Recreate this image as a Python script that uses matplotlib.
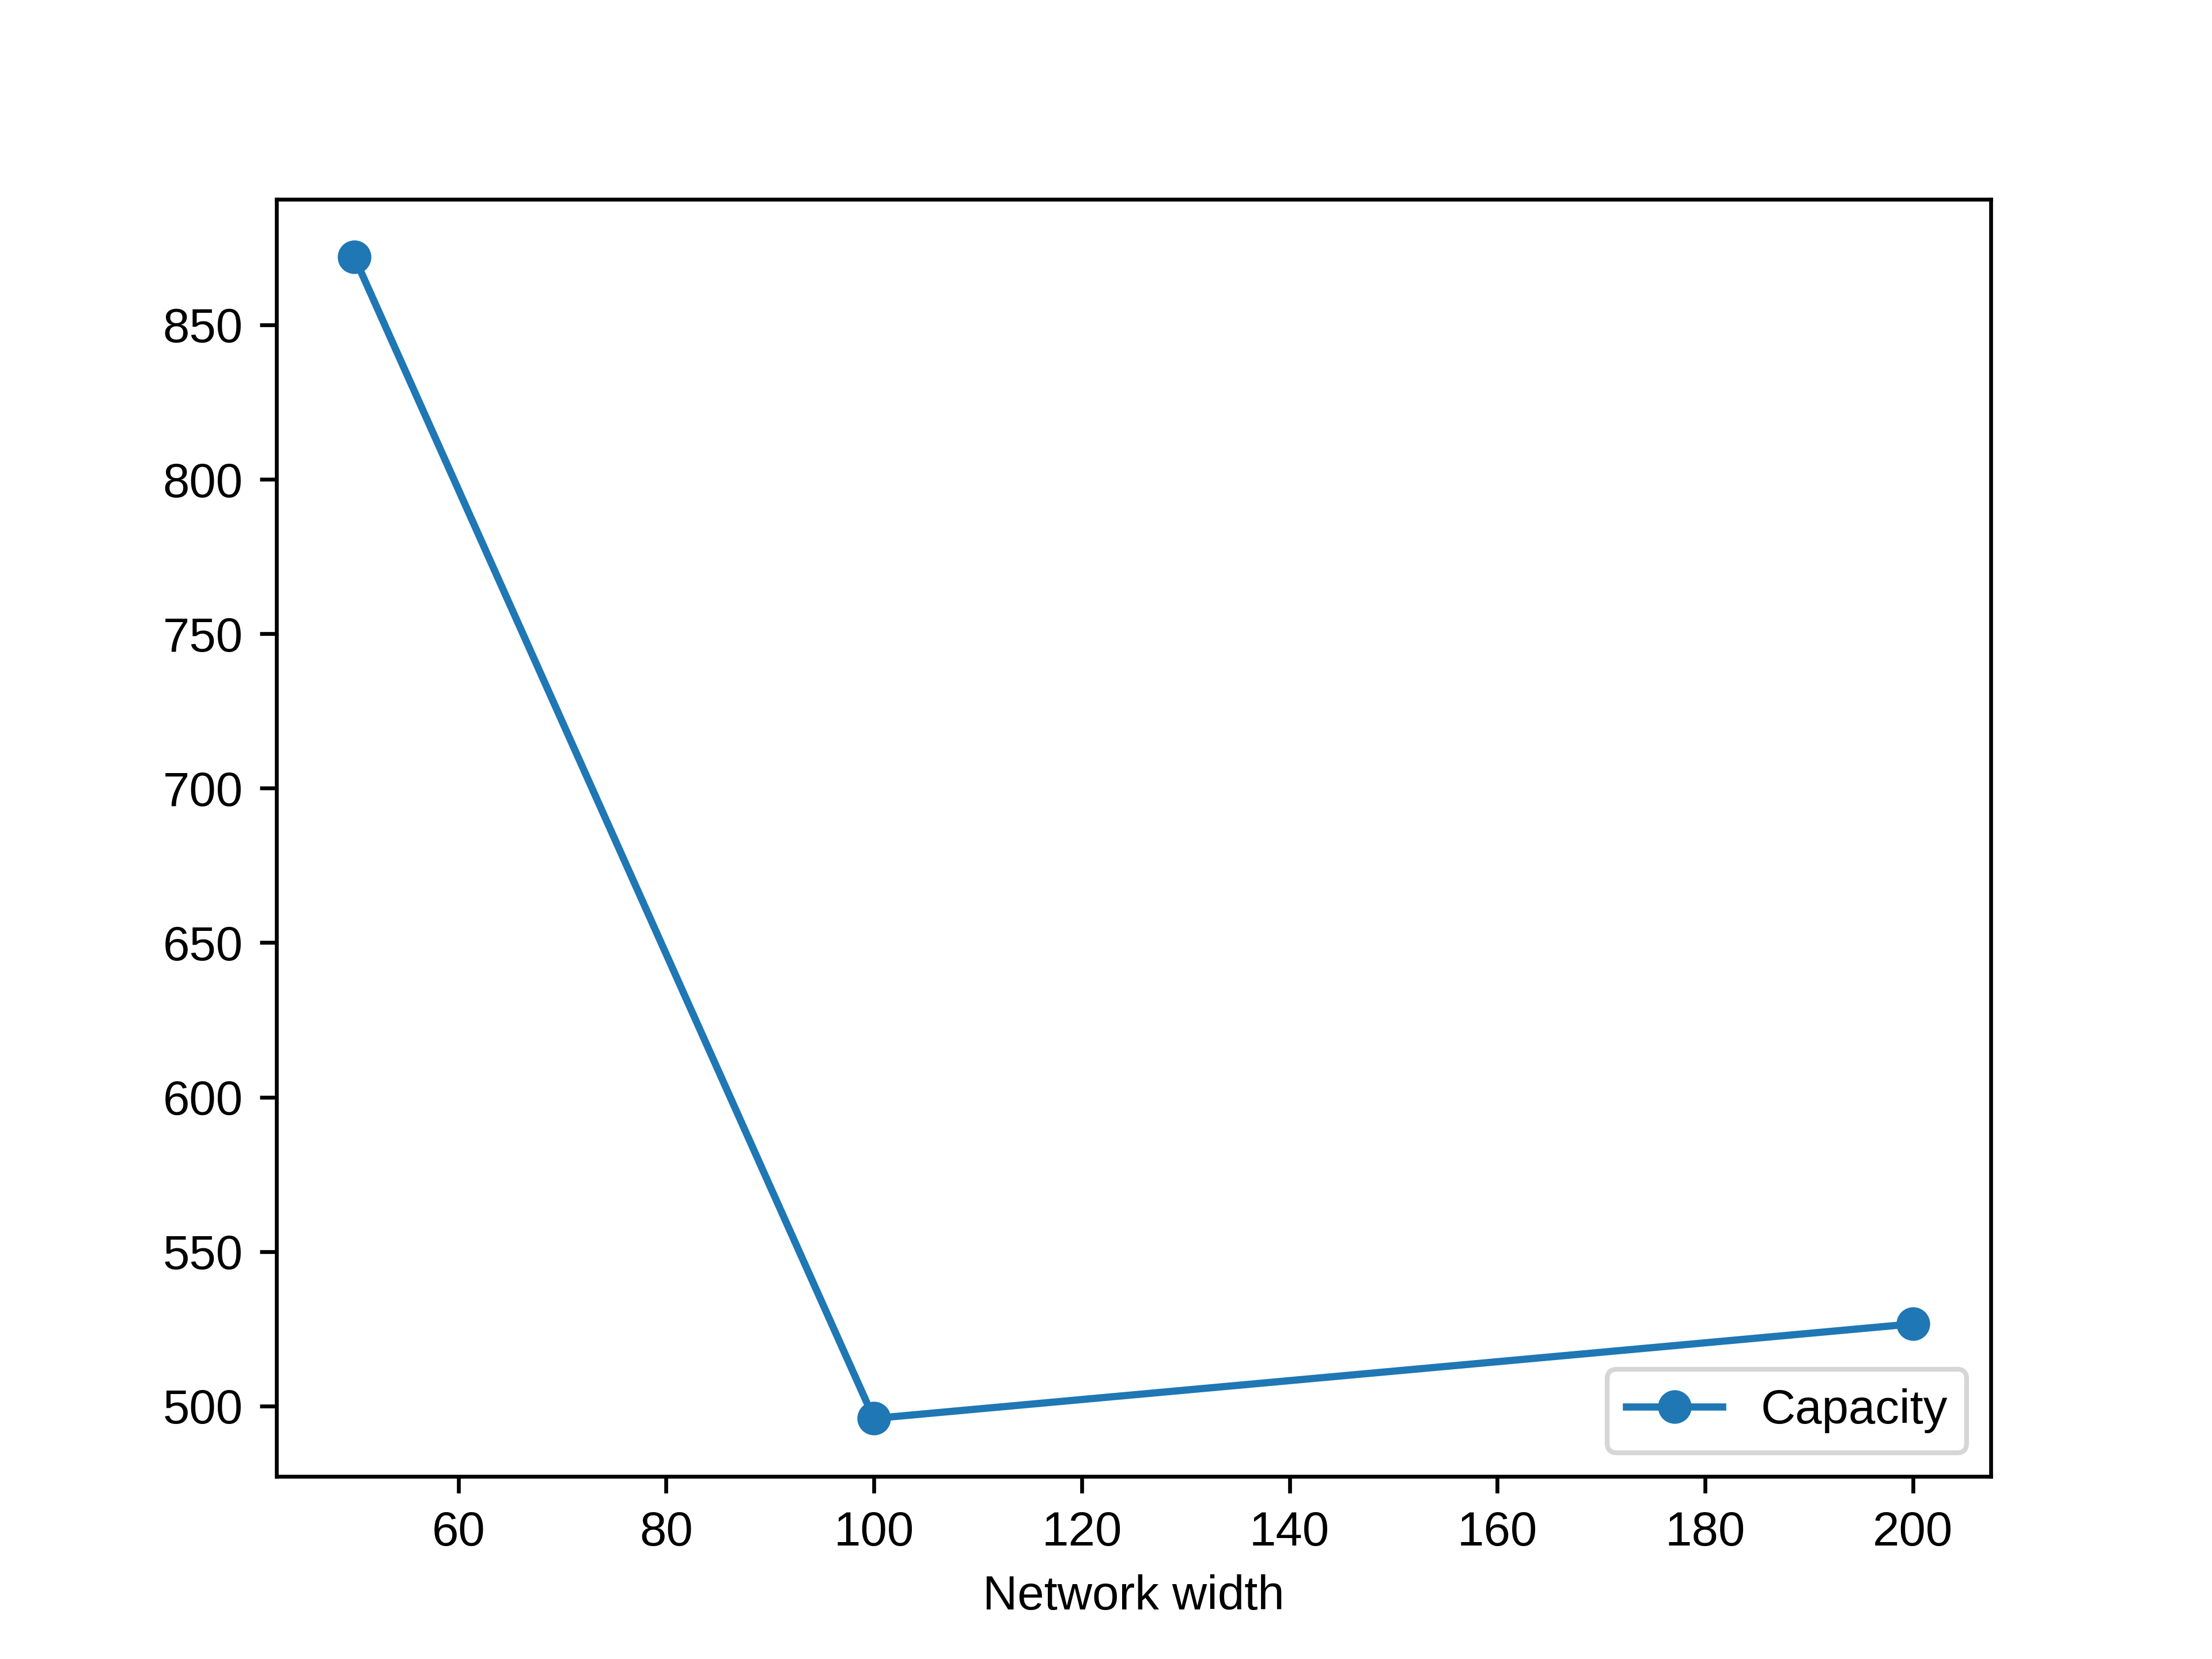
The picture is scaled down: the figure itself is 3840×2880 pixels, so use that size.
import matplotlib
matplotlib.use("Agg")
import matplotlib.pyplot as plt

plt.rcParams["font.family"] = ["Liberation Sans", "DejaVu Sans"]

widths = [50, 100, 200]
capacity = [871.9, 496.0, 526.6]

fig, ax = plt.subplots(figsize=(6.4, 4.8), dpi=600)
ax.plot(widths, capacity, "o-", color="#1f77b4", label="Capacity")
ax.set_xlabel("Network width")
ax.legend(loc="lower right")
fig.savefig("out.png", dpi=600)
